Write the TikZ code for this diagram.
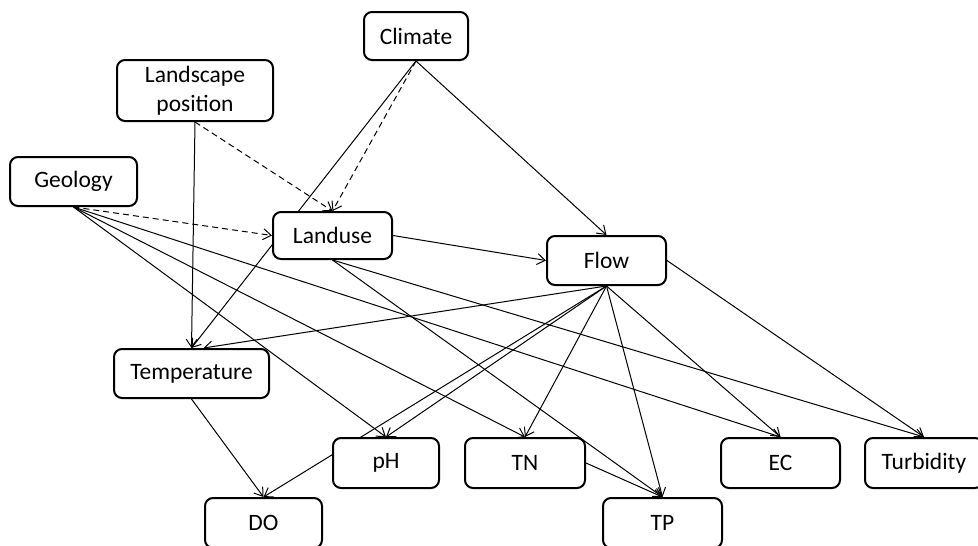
\documentclass[tikz,border=0pt]{standalone}
\usepackage{fontspec}
\setmainfont{Carlito}
\usetikzlibrary{arrows.meta,backgrounds}
\begin{document}
\begin{tikzpicture}[x=1pt, y=-1pt, >={Straight Barb[length=8pt,width=11pt]},
    main/.style = {draw, line width=2pt, rounded corners=8pt, fill=white, inner sep=0pt,
      font=\fontsize{23.5}{29}\selectfont, align=center},
    link/.style = {->, line width=1pt},
    dlink/.style = {->, line width=1pt, dash pattern=on 6pt off 4pt}]
      \useasboundingbox (0,0) rectangle (978,546);

      \node[main, minimum width=104pt, minimum height=48pt] (clim) at (416,36) {Climate};
      \node[main, minimum width=156pt, minimum height=61pt] (lpos) at (195,90.5) {Landscape\\position};
      \node[main, minimum width=127pt, minimum height=49pt] (geol) at (73.5,181.5) {Geology};
      \node[main, minimum width=119pt, minimum height=47pt] (luse) at (332.5,235.5) {Landuse};
      \node[main, minimum width=119pt, minimum height=49pt] (flow) at (606.5,260.5) {Flow};

      \node[main, minimum width=155pt, minimum height=49pt] (temp) at (191.5,373.5) {Temperature};
      \node[main, minimum width=106pt, minimum height=50pt] (ph) at (386,463) {pH};
      \node[main, minimum width=120pt, minimum height=50pt] (tn) at (525,463) {TN};
      \node[main, minimum width=119pt, minimum height=50pt] (ec) at (780.5,463) {EC};
      \node[main, minimum width=118pt, minimum height=50pt] (turb) at (924,463) {Turbidity};

      \node[main, minimum width=117pt, minimum height=50pt] (do) at (263.5,523) {DO};
      \node[main, minimum width=119pt, minimum height=50pt] (tp) at (662.5,523) {TP};

      \begin{scope}[on background layer]
      \draw[dlink] (clim.south) -- (luse.north);
      \draw[dlink] (lpos.south) -- (luse.north);
      \draw[dlink] (geol.south) -- (luse.west);

      \draw[link] (clim.south) -- (temp.north);
      \draw[link] (clim.south) -- (flow.north);
      \draw[link] (lpos.south) -- (temp.north);

      \draw[link] (geol.south) -- (ph.north);
      \draw[link] (geol.south) -- (tn.north);
      \draw[link] (geol.south) -- (ec.north);

      \draw[link] (luse.east) -- (flow.west);
      \draw[link] (luse.south) -- (tp.north);
      \draw[link] (luse.south) -- (turb.north);

      \draw[link] (flow.south) -- ([xshift=12pt]temp.north);
      \draw[link] (flow.south) -- (ph.north);
      \draw[link] (flow.south) -- (do.north);
      \draw[link] (flow.south) -- (tn.north);
      \draw[link] (flow.south) -- (tp.north);
      \draw[link] (flow.south) -- (ec.north);
      \draw[link] (flow.east) -- (turb.north);

      \draw[link] (temp.south) -- (do.north);
      \draw[link] (tn.east) -- (tp.north);
      \end{scope}
    \end{tikzpicture}
\end{document}
